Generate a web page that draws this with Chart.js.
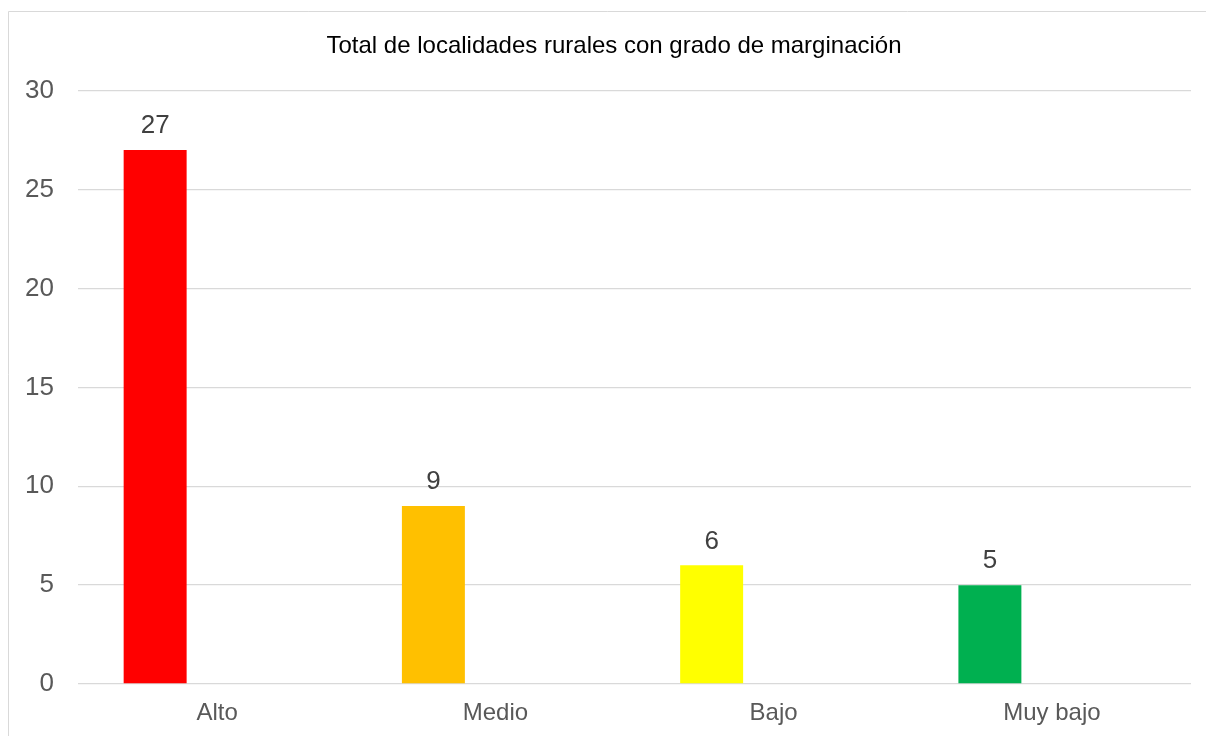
<!DOCTYPE html>
<html>
<head>
<meta charset="utf-8">
<script src="https://cdn.jsdelivr.net/npm/chart.js@4.4.0/dist/chart.umd.min.js"></script>
<style>
html,body{margin:0;padding:0;background:#fff;}
#wrap{position:absolute;left:0;top:0;width:1206px;height:736px;}
</style>
</head>
<body>
<div id="wrap"><canvas id="c" width="1206" height="736"></canvas></div>
<script>
const chartTitle = "Total de localidades rurales con grado de marginación";
const categories = ["Alto", "Medio", "Bajo", "Muy bajo"];
const values = [27, 9, 6, 5];
const emptySeries = [null, null, null, null];
const barColors = ["#FF0000", "#FFC000", "#FFFF00", "#00B050"];
const yMin = 0, yMax = 30, yStep = 5;

const FONT = "'Liberation Sans', Arial, sans-serif";

const frame = {
  id: 'frame',
  beforeDraw(chart) {
    const ctx = chart.ctx;
    ctx.save();
    ctx.fillStyle = '#fff';
    ctx.fillRect(0, 0, chart.width, chart.height);
    ctx.strokeStyle = '#d9d9d9';
    ctx.lineWidth = 1;
    ctx.beginPath();
    ctx.moveTo(8.5, chart.height + 5);
    ctx.lineTo(8.5, 11.5);
    ctx.lineTo(chart.width + 5, 11.5);
    ctx.stroke();
    ctx.restore();
  }
};

const titleShift = {
  id: 'titleShift',
  afterLayout(chart) {
    if (chart.titleBlock) {
      chart.titleBlock.left = 37;
      chart.titleBlock.right = chart.chartArea.right;
    }
  }
};

const valueLabels = {
  id: 'valueLabels',
  afterDatasetsDraw(chart) {
    const ctx = chart.ctx;
    const meta = chart.getDatasetMeta(0);
    ctx.save();
    ctx.font = "26px " + FONT;
    ctx.fillStyle = '#404040';
    ctx.textAlign = 'center';
    ctx.textBaseline = 'middle';
    meta.data.forEach((bar, i) => {
      const v = chart.data.datasets[0].data[i];
      if (v == null) return;
      ctx.fillText(String(v), bar.x, bar.y - 24);
    });
    ctx.restore();
  }
};

new Chart(document.getElementById('c'), {
  type: 'bar',
  data: {
    labels: categories,
    datasets: [
      { label: 'Total', data: values, backgroundColor: barColors, borderWidth: 0,
        categoryPercentage: 0.891, barPercentage: 0.508 },
      { label: '', data: emptySeries, backgroundColor: '#ffffff', borderWidth: 0,
        categoryPercentage: 0.891, barPercentage: 0.508 }
    ]
  },
  options: {
    responsive: false,
    animation: false,
    devicePixelRatio: 1,
    layout: { padding: { left: 12, right: 15, top: 0, bottom: 0 } },
    plugins: {
      legend: { display: false },
      tooltip: { enabled: false },
      title: {
        display: true,
        text: chartTitle,
        color: '#000000',
        font: { family: FONT, size: 24, weight: 'normal', lineHeight: 1.2 },
        padding: { top: 32, bottom: 30 }
      }
    },
    scales: {
      x: {
        grid: { display: false, drawTicks: false },
        border: { display: false },
        ticks: { color: '#595959', font: { family: FONT, size: 24 }, padding: 15, maxRotation: 0 },
        afterFit(scale) { scale.height = 52; }
      },
      y: {
        min: yMin, max: yMax,
        grid: { color: '#d9d9d9', lineWidth: 1.3, drawTicks: false },
        border: { display: false },
        ticks: { stepSize: yStep, color: '#595959', font: { family: FONT, size: 26 }, padding: 24 },
        afterFit(scale) { scale.width = 66; }
      }
    }
  },
  plugins: [frame, titleShift, valueLabels]
});
</script>
</body>
</html>
